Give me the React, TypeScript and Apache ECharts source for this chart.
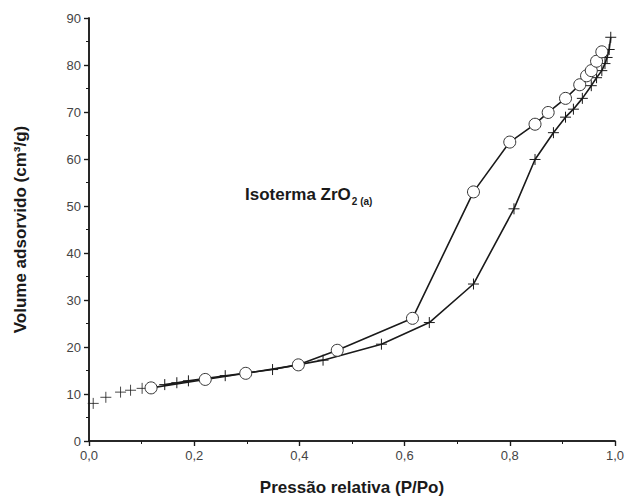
import React, { useEffect, useRef } from "react";
import * as echarts from "echarts";

// Adsorção (+) – pontos iniciais sem linha
const adsLowP = [0.008, 0.032, 0.060, 0.079, 0.101];
const adsLowV = [8.0, 9.3, 10.4, 10.8, 11.2];
// Adsorção (+) – ramo ligado por linha
const adsP = [0.144, 0.167, 0.189, 0.259, 0.349, 0.445, 0.556, 0.647, 0.731, 0.808, 0.848, 0.883, 0.906, 0.921, 0.938, 0.955, 0.965, 0.975, 0.981, 0.985, 0.989, 0.992];
const adsV = [12.0, 12.4, 12.8, 13.9, 15.2, 17.2, 20.6, 25.2, 33.4, 49.4, 59.9, 65.6, 68.9, 70.6, 72.9, 75.6, 77.3, 78.8, 80.3, 81.6, 83.3, 85.9];
// Dessorção (O)
const desP = [0.118, 0.221, 0.298, 0.398, 0.472, 0.615, 0.731, 0.800, 0.848, 0.873, 0.906, 0.933, 0.946, 0.955, 0.965, 0.975];
const desV = [11.3, 13.1, 14.4, 16.2, 19.3, 26.1, 53.0, 63.6, 67.4, 69.9, 72.9, 75.8, 77.7, 78.8, 80.8, 82.8];

const xTitle = "Pressão relativa (P/Po)";
const yTitle = "Volume adsorvido (cm³/g)";

const zip = (a: number[], b: number[]) => a.map((v, i) => [v, b[i]]);

const crossPath = "path://M0,6 L12,6 M6,0 L6,12";
const ink = "#1a1a1a";
const font = "Liberation Sans, Arial, sans-serif";

export default function App() {
  const ref = useRef<HTMLDivElement>(null);
  useEffect(() => {
    const chart = echarts.init(ref.current!, null, { renderer: "svg" });
    const crossStyle = { color: "rgba(0,0,0,0)", borderColor: ink, borderWidth: 1 };
    const labelFmt = (v: number) => v.toFixed(1).replace(".", ",");
    chart.setOption({
      animation: false,
      backgroundColor: "#fff",
      grid: { left: 89, right: 12, top: 18, bottom: 61, containLabel: false },
      xAxis: [
        {
          type: "value", min: 0, max: 1, interval: 0.2, position: "bottom",
          name: xTitle, nameLocation: "middle", nameGap: 38,
          nameTextStyle: { fontFamily: font, fontSize: 17, fontWeight: "bold", color: ink },
          axisLine: { lineStyle: { color: ink, width: 1.5 } },
          axisTick: { inside: false, length: 5, lineStyle: { color: ink, width: 1.2 } },
          minorTick: { show: true, splitNumber: 2, length: 3, lineStyle: { color: ink } },
          axisLabel: { formatter: labelFmt, fontFamily: font, fontSize: 13, color: "#444", margin: 8 },
          splitLine: { show: false },
        },
        {
          type: "value", min: 0, max: 1, interval: 0.2, position: "top",
          axisLine: { lineStyle: { color: ink, width: 1.5 } },
          axisTick: { inside: true, length: 5, lineStyle: { color: ink, width: 1.2 } },
          minorTick: { show: true, splitNumber: 2, length: 3, lineStyle: { color: ink } },
          axisLabel: { show: false },
          splitLine: { show: false },
        },
      ],
      yAxis: [
        {
          type: "value", min: 0, max: 90, interval: 10, position: "left",
          name: yTitle, nameLocation: "middle", nameGap: 60,
          nameTextStyle: { fontFamily: font, fontSize: 17, fontWeight: "bold", color: ink },
          axisLine: { show: true, lineStyle: { color: ink, width: 1.5 } },
          axisTick: { show: true, inside: false, length: 5, lineStyle: { color: ink, width: 1.2 } },
          minorTick: { show: true, splitNumber: 2, length: 3, lineStyle: { color: ink } },
          axisLabel: { fontFamily: font, fontSize: 13, color: "#444", margin: 8 },
          splitLine: { show: false },
        },
        {
          type: "value", min: 0, max: 90, interval: 10, position: "right",
          axisLine: { show: true, lineStyle: { color: ink, width: 1.5 } },
          axisTick: { show: true, inside: true, length: 5, lineStyle: { color: ink, width: 1.2 } },
          minorTick: { show: true, splitNumber: 2, length: 3, lineStyle: { color: ink } },
          axisLabel: { show: false },
          splitLine: { show: false },
        },
      ],
      series: [
        {
          name: "Adsorção (inicial)", type: "scatter", data: zip(adsLowP, adsLowV),
          symbol: crossPath, symbolSize: 11, itemStyle: crossStyle,
        },
        {
          name: "Adsorção", type: "line", data: zip(adsP, adsV),
          symbol: crossPath, symbolSize: 11, showSymbol: true,
          lineStyle: { color: ink, width: 1.6 }, itemStyle: crossStyle,
        },
        {
          name: "Dessorção", type: "line", data: zip(desP, desV),
          symbol: "circle", symbolSize: 12, showSymbol: true,
          lineStyle: { color: ink, width: 1.6 },
          itemStyle: { color: "#fff", borderColor: "#333", borderWidth: 1 },
          z: 3,
        },
      ],
      graphic: [
        {
          type: "text", left: 245, top: 186,
          style: {
            text: "{m|Isoterma ZrO}{s|2 (a)}",
            rich: {
              m: { fontFamily: font, fontSize: 17, fontWeight: "bold", fill: ink },
              s: { fontFamily: font, fontSize: 10, fontWeight: "bold", fill: ink, padding: [14, 0, 0, 1] },
            },
          },
        },
      ],
    });
    return () => chart.dispose();
  }, []);
  return (
    <div
      ref={ref}
      style={{ position: "fixed", left: 0, top: 0, width: 627, height: 502 }}
    />
  );
}
